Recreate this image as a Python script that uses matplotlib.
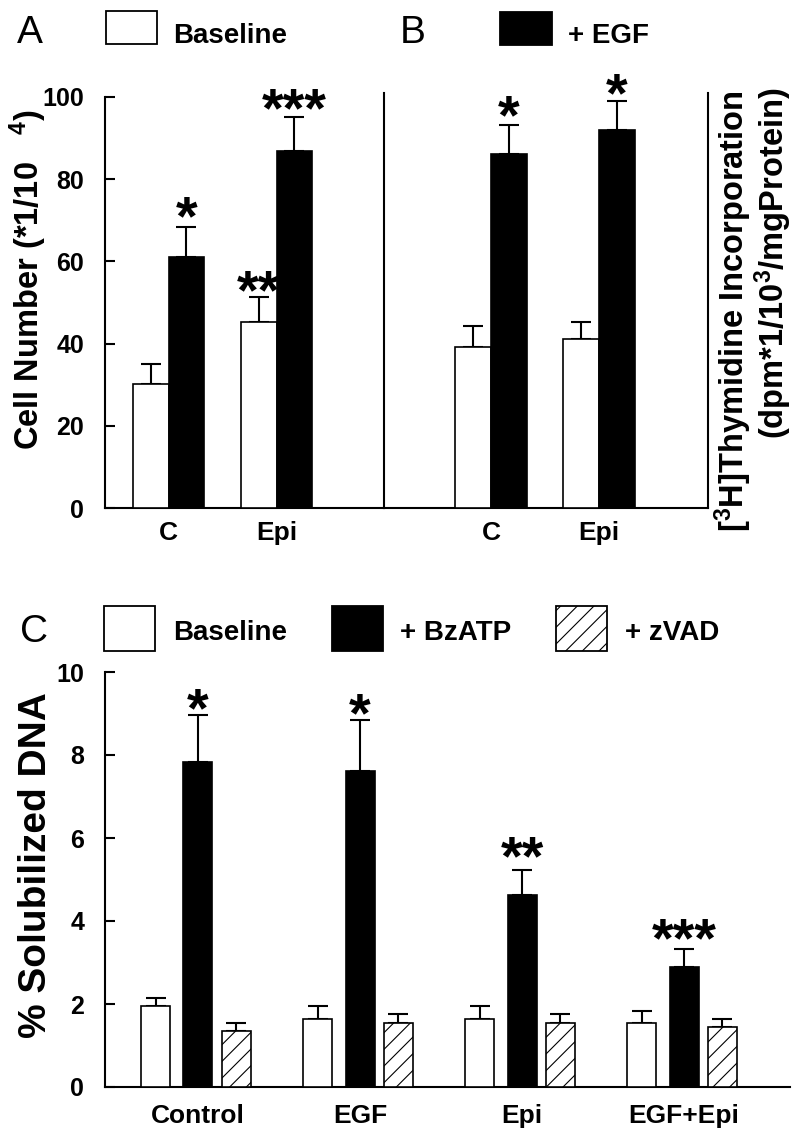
import matplotlib
matplotlib.use('Agg')
import matplotlib.pyplot as plt
from matplotlib.patches import Rectangle

plt.rcParams['font.family'] = ['Liberation Sans', 'DejaVu Sans']
plt.rcParams['font.weight'] = 'bold'
plt.rcParams['mathtext.fontset'] = 'custom'
plt.rcParams['mathtext.rm'] = 'Liberation Sans:bold'
plt.rcParams['mathtext.it'] = 'Liberation Sans:bold'
plt.rcParams['mathtext.bf'] = 'Liberation Sans:bold'
plt.rcParams['hatch.linewidth'] = 0.8

# ── data ──────────────────────────────────────────────────────────────────────
TOP_GROUPS = ['C', 'Epi']

A_BASE     = [30.2, 45.2]
A_BASE_ERR = [4.8, 6.1]
A_EGF      = [61.1, 86.9]
A_EGF_ERR  = [7.3, 8.2]
A_BASE_STARS = ['', '**']
A_BASE_STAR_Y = [None, 56.2]
A_EGF_STARS  = ['*', '***']
A_EGF_STAR_Y = [74.2, 100.5]

B_BASE     = [39.2, 41.1]
B_BASE_ERR = [5.1, 4.2]
B_EGF      = [86.1, 92.0]
B_EGF_ERR  = [7.1, 7.0]
B_EGF_STARS  = ['*', '*']
B_EGF_STAR_Y = [98.8, 104.1]

C_GROUPS   = ['Control', 'EGF', 'Epi', 'EGF+Epi']
C_BASE     = [1.95, 1.64, 1.64, 1.54]
C_BASE_ERR = [0.20, 0.31, 0.31, 0.29]
C_BZ       = [7.82, 7.62, 4.62, 2.90]
C_BZ_ERR   = [1.15, 1.23, 0.62, 0.42]
C_ZVAD     = [1.34, 1.54, 1.54, 1.44]
C_ZVAD_ERR = [0.20, 0.21, 0.21, 0.20]
C_BZ_STARS  = ['*', '*', '**', '***']
C_BZ_STAR_Y = [9.45, 9.33, 5.88, 3.90]

# ── layout (pixels of an 800 x 1141 canvas) ──────────────────────────────────
W, H = 800, 1141
LW = 1.5
TICK_FS = 18
XLAB_FS = 19
LEG_FS = 20
YLAB_FS = 23.5
PANEL_FS = 28
STAR_FS = 40


def fig_rect(l, t, r, b):
    return [l / W, 1 - b / H, (r - l) / W, (b - t) / H]


def fxy(x, y):
    return x / W, 1 - y / H


def bars(ax, xs, vals, errs, **kw):
    ax.bar(xs, vals, edgecolor='black', linewidth=1.2, zorder=3, **kw)
    ax.errorbar(xs, vals, yerr=[[0] * len(vals), errs], fmt='none',
                ecolor='black', elinewidth=LW, capsize=7, capthick=LW, zorder=2)


def stars(ax, xs, labels, ys):
    for x, s, y in zip(xs, labels, ys):
        if not s:
            continue
        ax.annotate(s, xy=(x, y), xytext=(0, -0.56 * STAR_FS),
                    textcoords='offset points', ha='center', va='baseline',
                    fontsize=STAR_FS, fontweight='bold', zorder=5,
                    annotation_clip=False, clip_on=False)


def style(ax, left=True, right=False):
    for side in ('top', 'right', 'left'):
        ax.spines[side].set_visible(False)
    ax.spines['left'].set_visible(left)
    ax.spines['right'].set_visible(right)
    for sp in ax.spines.values():
        sp.set_linewidth(LW)
    ax.tick_params(axis='x', length=0, pad=9, labelsize=XLAB_FS)
    ax.tick_params(axis='y', direction='in', length=7, width=LW,
                   pad=15, labelsize=TICK_FS)


def legend_box(x0, y0, x1, y1, face, hatch=None):
    l, b = fxy(x0, y1)
    rect = Rectangle((l, b), (x1 - x0) / W, (y1 - y0) / H, transform=fig.transFigure,
                     facecolor=face, edgecolor='black', linewidth=1.3, hatch=hatch)
    fig.add_artist(rect)


fig = plt.figure(figsize=(W / 100, H / 100), dpi=100, facecolor='white')

bw = 0.33
gx = range(len(TOP_GROUPS))
xw = [g - bw / 2 for g in gx]
xb = [g + bw / 2 for g in gx]

# ── panel A ──────────────────────────────────────────────────────────────────
axA = fig.add_axes(fig_rect(105, 97, 384, 508))
bars(axA, xw, A_BASE, A_BASE_ERR, width=bw, color='white')
bars(axA, xb, A_EGF, A_EGF_ERR, width=bw, color='black')
stars(axA, xw, A_BASE_STARS, A_BASE_STAR_Y)
stars(axA, xb, A_EGF_STARS, A_EGF_STAR_Y)
axA.set_xlim(-0.588, 1.995)
axA.set_ylim(0, 100)
axA.set_yticks(range(0, 101, 20))
axA.set_xticks(list(gx))
axA.set_xticklabels(TOP_GROUPS)
style(axA)

# ── panel B ──────────────────────────────────────────────────────────────────
axB = fig.add_axes(fig_rect(384, 93, 708, 508))
bars(axB, xw, B_BASE, B_BASE_ERR, width=bw, color='white')
bars(axB, xb, B_EGF, B_EGF_ERR, width=bw, color='black')
stars(axB, xb, B_EGF_STARS, B_EGF_STAR_Y)
axB.set_xlim(-0.991, 2.009)
axB.set_ylim(0, 100 * (508 - 93) / 411)
axB.set_yticks([])
axB.set_xticks(list(gx))
axB.set_xticklabels(TOP_GROUPS)
style(axB, left=True, right=True)
axB.patch.set_alpha(0)

# ── panel C ──────────────────────────────────────────────────────────────────
axC = fig.add_axes(fig_rect(105, 672, 790, 1087))
cw = 0.179
gc = list(range(len(C_GROUPS)))
bars(axC, [g - 0.262 for g in gc], C_BASE, C_BASE_ERR, width=cw, color='white')
bars(axC, gc, C_BZ, C_BZ_ERR, width=cw, color='black')
bars(axC, [g + 0.235 for g in gc], C_ZVAD, C_ZVAD_ERR, width=cw, color='white',
     hatch='//')
stars(axC, gc, C_BZ_STARS, C_BZ_STAR_Y)
axC.set_xlim(-0.574, 3.654)
axC.set_ylim(0, 10)
axC.set_yticks(range(0, 11, 2))
axC.set_xticks(gc)
axC.set_xticklabels(C_GROUPS)
style(axC)
axC.tick_params(axis='x', pad=12)

# ── axis titles ──────────────────────────────────────────────────────────────
fig.text(*fxy(28, 280), 'Cell Number (*1/10   $^{4}$)', rotation=90,
         ha='center', va='center', fontsize=YLAB_FS)
fig.text(*fxy(733, 90), '[$^{3}$H]Thymidine Incorporation', rotation=90,
         ha='center', va='top', fontsize=YLAB_FS)
fig.text(*fxy(773, 88), '(dpm*1/10$^{3}$/mgProtein)', rotation=90,
         ha='center', va='top', fontsize=YLAB_FS)
fig.text(*fxy(36, 865), '% Solubilized DNA', rotation=90,
         ha='center', va='center', fontsize=28)

# ── legends and panel letters ────────────────────────────────────────────────
fig.text(*fxy(17, 43), 'A', fontsize=PANEL_FS, fontweight='normal', va='baseline')
legend_box(106, 11, 157, 44, 'white')
fig.text(*fxy(173, 43), 'Baseline', fontsize=LEG_FS, va='baseline')
fig.text(*fxy(400, 43), 'B', fontsize=PANEL_FS, fontweight='normal', va='baseline')
legend_box(500, 12, 552, 45, 'black')
fig.text(*fxy(568, 43), '+ EGF', fontsize=LEG_FS, va='baseline')

fig.text(*fxy(20, 642), 'C', fontsize=PANEL_FS, fontweight='normal', va='baseline')
legend_box(104, 606, 155, 651, 'white')
fig.text(*fxy(173, 640), 'Baseline', fontsize=LEG_FS, va='baseline')
legend_box(332, 606, 383, 651, 'black')
fig.text(*fxy(400, 640), '+ BzATP', fontsize=LEG_FS, va='baseline')
legend_box(556, 606, 607, 651, 'white', hatch='//')
fig.text(*fxy(625, 640), '+ zVAD', fontsize=LEG_FS, va='baseline')

fig.savefig('out.png', dpi=100, facecolor='white')
